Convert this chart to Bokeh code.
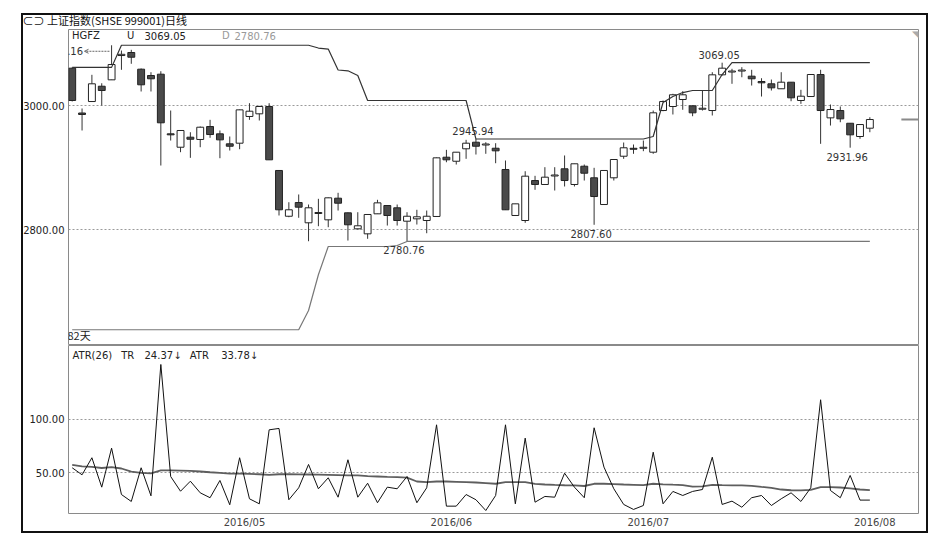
from bokeh.plotting import figure
from bokeh.layouts import column
from bokeh.models import (ColumnDataSource, FixedTicker, PrintfTickFormatter, Label,
                          Arrow, OpenHead, Range1d)
from bokeh.embed import file_html
from bokeh.resources import INLINE

# ---------------- data ----------------
opens = [3060.2, 2987.9, 3006.4, 3031.1, 3041.4, 3080.6, 3085.5, 3058.6, 3048.4, 3050.5,
         2954.3, 2932.7, 2948.9, 2945.2, 2966.1, 2954.3, 2938.2, 2939.2, 2982.3, 2986.6,
         2998.4, 2895.2, 2821.4, 2843.5, 2810.8, 2825.8, 2815.6, 2850.5, 2826.9, 2801.1,
         2793.0, 2825.3, 2838.7, 2835.0, 2813.4, 2817.2, 2814.5, 2821.0, 2916.6, 2910.1,
         2930.2, 2940.8, 2936.3, 2931.1, 2896.8, 2822.6, 2814.5, 2879.0, 2872.6, 2886.3,
         2897.9, 2872.6, 2902.1, 2883.4, 2840.3, 2883.4, 2918.2, 2931.0, 2931.0, 2924.7,
         2991.9, 2998.4, 3009.7, 2999.5, 2994.0, 2991.9, 3049.5, 3054.0, 3055.6, 3047.3,
         3038.7, 3035.0, 3027.0, 3037.6, 3008.1, 3014.5, 3050.0, 2980.1, 2991.9, 2971.4,
         2950.0, 2963.4]
highs = [3061.3, 2995.2, 3049.5, 3035.9, 3097.16, 3088.7, 3089.8, 3059.7, 3053.7, 3055.3,
         2991.9, 2959.7, 2956.9, 2966.1, 2976.9, 2959.7, 2950.0, 2993.5, 3003.7, 2999.5,
         3003.7, 2895.2, 2844.0, 2856.5, 2840.3, 2849.5, 2851.6, 2859.2, 2827.4, 2827.9,
         2824.2, 2847.9, 2838.7, 2840.3, 2827.9, 2831.8, 2830.6, 2916.1, 2928.5, 2924.7,
         2944.6, 2945.94, 2940.8, 2939.2, 2911.3, 2841.4, 2894.0, 2886.6, 2900.5, 2900.5,
         2919.4, 2906.0, 2904.8, 2899.5, 2895.2, 2912.9, 2940.3, 2937.1, 2943.5, 2991.9,
         3008.1, 3018.9, 3023.1, 3000.0, 3024.2, 3053.7, 3069.05, 3059.2, 3061.8, 3057.6,
         3044.0, 3041.9, 3053.7, 3037.6, 3025.3, 3050.0, 3057.6, 3001.6, 2998.4, 2971.4,
         2969.3, 2981.1]
lows = [3006.5, 2959.7, 3006.4, 3000.0, 3041.4, 3057.6, 3067.3, 3022.6, 3022.6, 2903.2,
        2943.5, 2924.7, 2915.6, 2932.7, 2947.9, 2915.0, 2927.4, 2929.5, 2976.9, 2975.8,
        2912.4, 2822.6, 2819.8, 2818.9, 2781.1, 2805.3, 2803.7, 2830.6, 2782.2, 2800.5,
        2785.0, 2825.3, 2806.4, 2806.4, 2780.76, 2808.0, 2794.0, 2821.0, 2908.5, 2904.8,
        2914.0, 2920.95, 2922.1, 2906.9, 2831.8, 2822.6, 2810.8, 2864.0, 2872.6, 2862.9,
        2869.4, 2869.4, 2879.0, 2807.60, 2840.3, 2879.0, 2914.0, 2922.1, 2926.3, 2922.1,
        2990.8, 2985.5, 2993.1, 2982.7, 2991.9, 2983.9, 3048.4, 3035.0, 3045.6, 3032.2,
        3014.5, 3024.2, 3027.0, 3006.9, 3002.7, 3014.5, 2938.2, 2967.7, 2973.0, 2931.96,
        2946.3, 2956.9]
closes = [3008.1, 2985.5, 3035.0, 3024.2, 3066.1, 3082.6, 3077.9, 3033.4, 3043.1, 2972.1,
          2952.7, 2959.7, 2945.6, 2965.0, 2953.2, 2944.6, 2934.3, 2993.0, 2990.8, 2998.4,
          2912.4, 2831.8, 2831.8, 2836.0, 2835.0, 2827.4, 2851.1, 2842.4, 2807.6, 2806.0,
          2824.2, 2843.0, 2822.6, 2814.5, 2821.4, 2820.5, 2821.4, 2915.6, 2912.4, 2924.7,
          2939.2, 2934.3, 2937.9, 2926.9, 2831.8, 2841.4, 2886.0, 2872.6, 2884.4, 2887.9,
          2879.0, 2906.0, 2890.8, 2853.2, 2895.2, 2912.9, 2931.8, 2929.4, 2932.6, 2988.2,
          3006.4, 3017.3, 3017.3, 2988.2, 2995.6, 3049.5, 3060.2, 3055.6, 3057.2, 3043.1,
          3036.6, 3028.5, 3037.6, 3012.4, 3015.0, 3050.0, 2991.9, 2993.5, 2978.5, 2952.7,
          2969.3, 2977.4]

hgfz_upper = ([3061.5] * 5 + [3097.16] * 20 + [3092.7, 3091.1, 3057.3, 3056.0, 3048.4]
              + [3008.1] * 11 + [2945.94] * 18
              + [2950.0, 3004.8, 3014.5, 3020.9, 3024.2, 3024.2, 3024.2, 3050.0]
              + [3069.05] * 15)
hgfz_lower = ([2638.3] * 24 + [2669.3, 2727.0] + [2772.6] * 7 + [2774.2] + [2780.76] * 48)

tr_values = [54.7, 48.1, 64.1, 36.5, 73.1, 29.6, 23.1, 54.7, 28.4, 151.6,
             46.5, 32.7, 42.1, 31.2, 26.6, 42.8, 20.0, 64.1, 25.6, 20.9,
             90.3, 91.6, 24.7, 35.9, 57.8, 35.0, 45.3, 27.1, 62.2, 27.1,
             40.2, 21.9, 36.5, 35.0, 46.5, 21.9, 35.9, 95.0, 18.7, 18.7,
             29.6, 24.7, 14.6, 28.7, 95.0, 20.9, 82.5, 22.4, 27.8, 27.1,
             49.6, 36.5, 26.6, 92.2, 55.3, 35.0, 20.3, 15.6, 19.3, 69.3,
             20.9, 32.5, 28.7, 32.5, 34.3, 64.6, 20.3, 23.4, 17.7, 26.6,
             28.7, 19.3, 25.6, 31.2, 23.1, 35.9, 118.5, 33.4, 26.6, 47.5,
             24.37, 24.37]
atr_values = [57.5, 56.0, 55.5, 54.5, 55.3, 54.0, 51.0, 50.0, 49.5, 52.2,
              52.2, 52.0, 51.8, 51.2, 50.5, 50.0, 49.3, 49.3, 49.0, 48.6,
              48.0, 48.6, 48.6, 48.5, 48.4, 48.2, 48.0, 47.8, 47.6, 47.5,
              46.8, 46.5, 46.2, 46.0, 45.5, 41.8, 41.2, 41.8, 41.8, 41.5,
              41.2, 40.9, 40.3, 39.7, 41.2, 41.2, 41.2, 39.5, 39.0, 38.6,
              38.3, 38.1, 37.6, 39.7, 39.7, 39.4, 39.0, 38.7, 38.4, 39.7,
              39.2, 38.8, 38.5, 37.0, 37.2, 38.7, 38.4, 38.2, 38.1, 37.8,
              36.8, 35.9, 34.3, 33.6, 33.4, 34.0, 36.5, 36.5, 36.2, 35.3,
              34.3, 33.78]

month_tick_pos = [17.5, 38.5, 58.5, 81.5]
month_labels = ["2016/05", "2016/06", "2016/07", "2016/08"]
price_ticks = [2800, 3000]
atr_ticks = [50, 100]
extreme_idx = [66, 41, 34, 53, 79]
extreme_kind = ["high", "high", "low", "low", "low"]

title_text = "\u2282\u2283 上证指数(SHSE 999001)日线"
days_text = "82天"

# ---------------- styling ----------------
FONT = "DejaVu Sans"
CJK = "Noto Sans CJK SC"
FRAME = "#8a8a8a"
n = len(opens)
idx = list(range(n))

X0, X1 = -0.376, 85.94
P_LO, P_HI = 2612.9, 3122.6
A_LO, A_HI = 11.8, 169.4

W = 921
BL, BR = 54, 17
p1 = figure(width=W, height=339, output_backend="svg", toolbar_location=None,
            x_range=Range1d(X0, X1), y_range=Range1d(P_LO, P_HI),
            min_border_left=BL, min_border_right=BR, min_border_top=23, min_border_bottom=0)
p2 = figure(width=W, height=195, output_backend="svg", toolbar_location=None,
            x_range=p1.x_range, y_range=Range1d(A_LO, A_HI),
            min_border_left=BL, min_border_right=BR, min_border_top=0, min_border_bottom=27)

for p in (p1, p2):
    p.outline_line_color = FRAME
    p.outline_line_width = 1
    p.xgrid.grid_line_color = None
    p.ygrid.grid_line_color = "#9a9a9a"
    p.ygrid.grid_line_dash = "2 2"
    p.ygrid.grid_line_width = 1
    p.yaxis.axis_line_color = None
    p.yaxis.major_tick_line_color = None
    p.yaxis.minor_tick_line_color = None
    p.yaxis.major_tick_out = 0
    p.yaxis.major_tick_in = 0
    p.yaxis.major_label_standoff = 4
    p.yaxis.major_label_text_font = FONT
    p.yaxis.major_label_text_font_size = "10px"
    p.yaxis.major_label_text_color = "#222222"
    p.yaxis.formatter = PrintfTickFormatter(format="%.2f")
    p.background_fill_color = "white"
    p.border_fill_color = None

p1.yaxis.ticker = FixedTicker(ticks=price_ticks)
p2.yaxis.ticker = FixedTicker(ticks=atr_ticks)
p1.xaxis.visible = False

p2.xaxis.ticker = FixedTicker(ticks=month_tick_pos)
p2.xaxis.major_label_overrides = {t: s for t, s in zip(month_tick_pos, month_labels)}
p2.xaxis.axis_line_color = None
p2.xaxis.major_tick_line_color = None
p2.xaxis.minor_tick_line_color = None
p2.xaxis.major_tick_out = 0
p2.xaxis.major_tick_in = 0
p2.xaxis.major_label_standoff = 3
p2.xaxis.major_label_text_font = FONT
p2.xaxis.major_label_text_font_size = "10px"
p2.xaxis.major_label_text_color = "#444444"

# title bar
p1.title.text = title_text
p1.title.text_font = CJK
p1.title.text_font_size = "11px"
p1.title.text_font_style = "normal"
p1.title.text_color = "#111111"
p1.title.align = "left"
p1.title.offset = -46
p1.title.standoff = 3

# ---------------- candles ----------------
up = [c >= o for o, c in zip(opens, closes)]
src = ColumnDataSource(dict(
    x=idx, o=opens, h=highs, l=lows, c=closes,
    top=[max(o, c) for o, c in zip(opens, closes)],
    bot=[min(o, c) for o, c in zip(opens, closes)],
    fill=["white" if u else "#4a4a4a" for u in up],
))
p1.segment(x0="x", y0="h", x1="x", y1="l", source=src, line_color="#333333", line_width=1)
p1.vbar(x="x", top="top", bottom="bot", width=0.7, source=src,
        fill_color="fill", line_color="#222222", line_width=1)

# HGFZ lines
p1.line(idx, hgfz_upper, line_color="#333333", line_width=1.2)
p1.line(idx, hgfz_lower, line_color="#777777", line_width=1.2)

# extreme labels
px_per_price = 316 / (P_HI - P_LO)
ex_x, ex_y, ex_t, ex_off = [], [], [], []
for i, k in zip(extreme_idx, extreme_kind):
    v = highs[i] if k == "high" else lows[i]
    ex_x.append(i)
    ex_y.append(v)
    ex_t.append(f"{v:.2f}")
    ex_off.append(-8 if k == "high" else 9)
p1.text(x=ex_x, y=ex_y, text=ex_t, y_offset=ex_off, x_offset=-3,
        text_align="center", text_baseline="middle", text_font={"value": FONT},
        text_font_size="10px", text_color="#333333")

# window max (clipped label with dashed arrow)
imax = max(range(n), key=lambda i: highs[i])
hmax = highs[imax]
arrow_y = hmax - 6 / px_per_price
p1.text(x=[imax], y=[arrow_y], text=[f"{hmax:.2f}"], x_offset=-28.5,
        text_align="right", text_baseline="middle", text_font={"value": FONT},
        text_font_size="10px", text_color="#333333")
p1.add_layout(Arrow(end=OpenHead(size=4, line_color="#666666", line_width=1),
                    x_start=imax - 0.22, y_start=arrow_y, x_end=imax - 2.75, y_end=arrow_y,
                    line_color="#666666", line_width=1, line_dash="2 1"))

# last price marker at right edge
p1.segment(x0=[n - 1 + 3.2], y0=[closes[-1]], x1=[X1], y1=[closes[-1]],
           line_color="#8a8a8a", line_width=2)

# header labels
def lab(p, text, xo, yo, color="#222222", font=FONT, size="10px", base_y=None):
    p.add_layout(Label(x=X0, y=base_y, x_offset=xo, y_offset=yo, text=text,
                       text_font=font, text_font_size=size, text_color=color,
                       text_baseline="middle", text_align="left"))

lab(p1, "HGFZ", 3.5, -6, base_y=P_HI)
lab(p1, "U", 58.5, -6, base_y=P_HI)
lab(p1, f"{hgfz_upper[-1]:.2f}", 76, -6, base_y=P_HI)
lab(p1, "D", 153.5, -6, color="#999999", base_y=P_HI)
lab(p1, f"{hgfz_lower[-1]:.2f}", 166, -6, color="#999999", base_y=P_HI)
lab(p1, days_text, -1, 11, font=CJK, size="11px", base_y=P_LO)
p1.add_layout(Label(x=X1, y=P_HI, text="\u25e5", text_align="right", text_baseline="top",
                    text_font_size="10px", text_color="#aaaaaa", x_offset=1, y_offset=1))

# ---------------- ATR panel ----------------
p2.line(idx, atr_values, line_color="#5e5e5e", line_width=1.8)
p2.line(idx, tr_values, line_color="#111111", line_width=1)

lab(p2, "ATR(26)", 4, -9.5, base_y=A_HI)
lab(p2, "TR", 52.7, -9.5, base_y=A_HI)
lab(p2, f"{tr_values[-1]:.2f}\u2193", 76, -9.5, base_y=A_HI)
lab(p2, "ATR", 121.3, -9.5, base_y=A_HI)
lab(p2, f"{atr_values[-1]:.2f}\u2193", 152.7, -9.5, base_y=A_HI)

layout = column(p1, p2, spacing=0,
                styles={"position": "relative", "left": "14px", "top": "6px",
                        "outline": "2px solid #111111", "outline-offset": "-9px"})

open("out.html", "w").write(file_html(layout, INLINE))
